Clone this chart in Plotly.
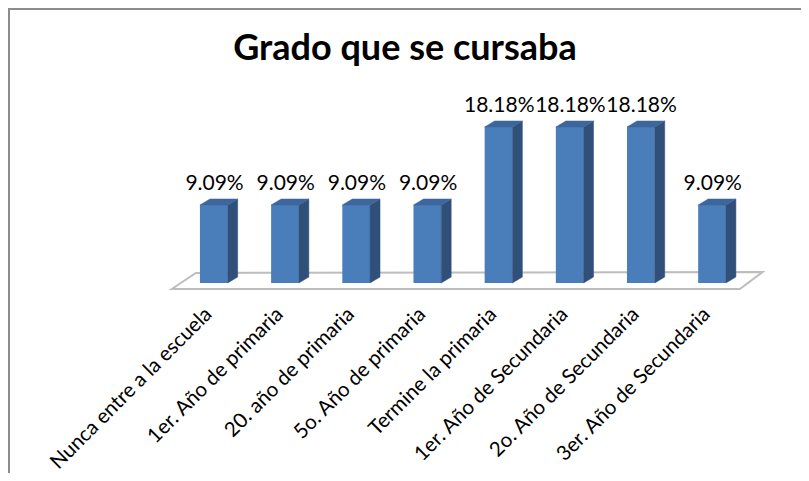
import plotly.graph_objects as go

categories = ["Nunca entre a la escuela", "1er. Año de primaria", "20. año de primaria",
              "5o. Año de primaria", "Termine la primaria", "1er. Año de Secundaria",
              "2o. Año de Secundaria", "3er. Año de Secundaria"]
values = [9.09, 9.09, 9.09, 9.09, 18.18, 18.18, 18.18, 9.09]
value_labels = ["9.09%", "9.09%", "9.09%", "9.09%", "18.18%", "18.18%", "18.18%", "9.09%"]

FRONT = "#4A7EBB"
SIDE = "#30507A"
TOP = "#3C669C"
FONT = "Lato"

W = 0.39      # bar width (x units)
SDX = 0.14    # depth offset x
SDY = 0.7     # depth offset y
LABEL_OFF = 2.35

# page has an 8px body margin; figure coordinates are page - 8
FW, FH = 793, 465
PLOT_BOTTOM = 292  # figure px

xs = list(range(len(categories)))

fig = go.Figure()

# front faces
fig.add_trace(go.Bar(x=xs, y=values, width=W, marker=dict(color=FRONT, line=dict(width=0)),
                     showlegend=False, hoverinfo="skip"))

# side and top faces
sx, sy = [], []
tx, ty = [], []
for x, v in zip(xs, values):
    x0 = x + W / 2
    x1 = x0 + SDX
    sx += [x0, x1, x1, x0, x0, None]
    sy += [0, SDY, v + SDY, v, 0, None]
    tx += [x0 - W, x0, x1, x1 - W, x0 - W, None]
    ty += [v, v, v + SDY, v + SDY, v, None]
fig.add_trace(go.Scatter(x=sx, y=sy, mode="lines", fill="toself", fillcolor=SIDE,
                         line=dict(color=SIDE, width=0.5), hoverinfo="skip", showlegend=False))
fig.add_trace(go.Scatter(x=tx, y=ty, mode="lines", fill="toself", fillcolor=TOP,
                         line=dict(color=TOP, width=0.5), hoverinfo="skip", showlegend=False))

# value labels
fig.add_trace(go.Scatter(x=[x + 0.01 for x in xs], y=[v + LABEL_OFF for v in values],
                         mode="text", text=value_labels, textposition="middle center",
                         textfont=dict(family=FONT, size=21, color="black"),
                         hoverinfo="skip", showlegend=False))

# floor (drawn below the bars)
fx = [-0.59, -0.253, 7.71, 7.39]
fy = [-0.70, 1.17, 1.28, -0.70]
floor_path = "M " + " L ".join(f"{a},{b}" for a, b in zip(fx, fy)) + " Z"

fig.update_layout(
    width=FW, height=FH,
    margin=dict(l=156, r=FW - 761, t=82, b=FH - PLOT_BOTTOM, autoexpand=False),
    paper_bgcolor="white", plot_bgcolor="white",
    title=dict(text="<b>Grado que se cursaba</b>", x=397 / FW, xref="container", xanchor="center",
               y=1 - 39 / FH, yref="container", yanchor="middle",
               font=dict(family=FONT, size=36, color="black")),
    xaxis=dict(range=[-0.7, 7.8], tickmode="array", tickvals=xs, ticktext=categories,
               tickangle=-45, showgrid=False, zeroline=False, showline=False, automargin=False,
               ticks="", ticklabelshift=-8, ticklabelstandoff=-3,
               tickfont=dict(family=FONT, size=20.5, color="black")),
    yaxis=dict(range=[-1.98, 22.49], showgrid=False, zeroline=False, showline=False,
               automargin=False, showticklabels=False, ticks=""),
    shapes=[
        dict(type="path", xref="x", yref="y", path=floor_path, layer="below",
             fillcolor="white", line=dict(color="#BDBDBD", width=2)),
        dict(type="line", xref="paper", yref="paper", xsizemode="pixel", ysizemode="pixel",
             xanchor=0, yanchor=0, x0=-155, x1=-155, y0=-(FH - PLOT_BOTTOM), y1=PLOT_BOTTOM,
             line=dict(color="#8C8C8C", width=2)),
        dict(type="line", xref="paper", yref="paper", xsizemode="pixel", ysizemode="pixel",
             xanchor=0, yanchor=0, x0=-156, x1=FW - 156, y0=PLOT_BOTTOM - 1, y1=PLOT_BOTTOM - 1,
             line=dict(color="#8C8C8C", width=2)),
    ],
)

fig.write_html("out.html")
